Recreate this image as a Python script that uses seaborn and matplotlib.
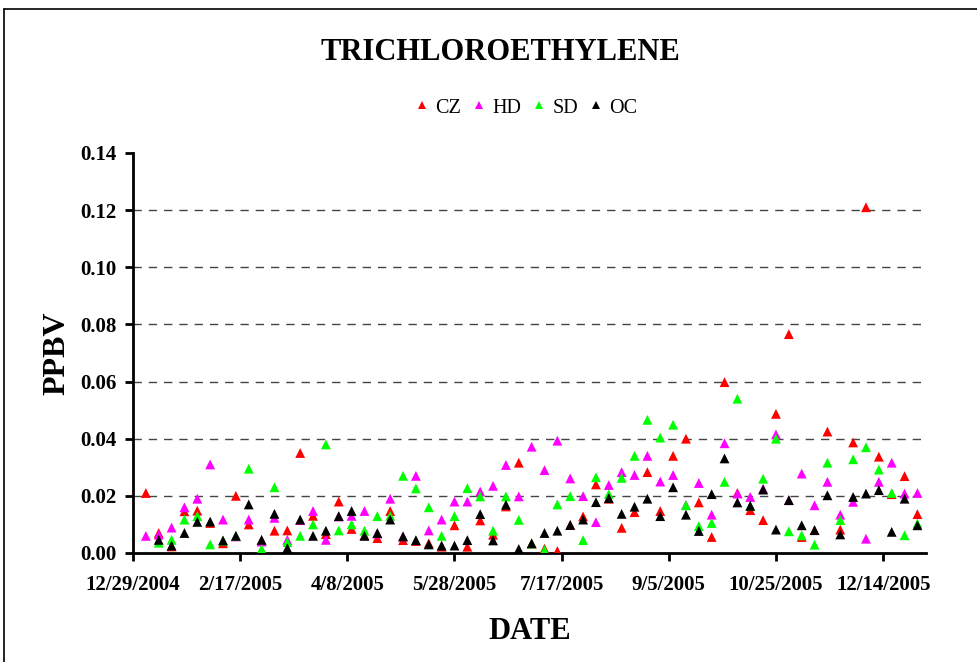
import numpy as np
import pandas as pd
import matplotlib
matplotlib.use("Agg")
import matplotlib.pyplot as plt
from matplotlib.lines import Line2D
import seaborn as sns

# sampling every 6 days
sample_dates = pd.date_range("2005-01-04", periods=61, freq="6D")
nan = np.nan

cz = [0.021, 0.007, 0.0023, 0.0146, 0.0148, 0.0105, 0.0034, 0.020, 0.010, 0.0045,
      0.0078, 0.0079, 0.035, 0.013, 0.0066, 0.018, 0.0084, 0.0062, 0.0052, 0.0147,
      0.0045, 0.0042, 0.0034, 0.0022, 0.0097, 0.0022, 0.0114, 0.0064, 0.0163, 0.0316,
      0.0033, 0.0015, 0.0007, 0.0098, 0.0128, 0.024, 0.019, 0.0088, 0.0143, 0.0283,
      0.0147, 0.034, 0.040, 0.0177, 0.0056, 0.0598, 0.021, 0.015, 0.0115, 0.0487,
      0.0766, 0.0056, 0.008, 0.0425, 0.0082, 0.0387, 0.121, 0.0337, 0.0206, 0.0269,
      0.0136]
hd = [0.006, 0.0064, 0.0089, 0.016, 0.019, 0.031, 0.0117, 0.0058, 0.0117, 0.004,
      0.0123, 0.0046, 0.0115, 0.0147, 0.0046, 0.0128, 0.013, 0.0147, 0.0068, 0.019,
      0.0058, 0.027, 0.0079, 0.0117, 0.018, 0.018, 0.0215, 0.0235, 0.0308, 0.0198,
      0.0372, 0.029, 0.0393, 0.0261, 0.0199, 0.0108, 0.0238, 0.0283, 0.0273, 0.034,
      0.025, 0.0273, 0.0168, 0.0245, 0.0134, 0.0384, 0.0208, 0.0196, 0.0225, 0.0415,
      0.0185, 0.0278, 0.0167, 0.0249, 0.0134, 0.0179, 0.005, 0.0249, 0.0316, 0.0208,
      0.021]
sd = [nan, 0.0036, 0.0046, 0.0117, 0.0129, 0.003, 0.0043, 0.006, 0.0295, 0.0014,
      0.023, 0.0038, 0.006, 0.010, 0.038, 0.0079, 0.010, 0.0078, 0.0129, 0.013,
      0.027, 0.0226, 0.016, 0.006, 0.0129, 0.0227, 0.0198, 0.0078, 0.0198, 0.0116,
      0.0033, 0.001, 0.017, 0.0199, 0.0045, 0.0265, 0.0206, 0.0263, 0.034, 0.0466,
      0.0404, 0.0449, 0.0167, 0.0094, 0.0105, 0.0249, 0.054, 0.0165, 0.026, 0.040,
      0.0076, 0.0062, 0.0029, 0.0316, 0.0115, 0.0328, 0.037, 0.0292, 0.021, 0.0062,
      0.0103]
oc = [nan, 0.0046, 0.0026, 0.007, 0.0109, 0.011, 0.0044, 0.006, 0.017, 0.0046,
      0.0137, 0.0017, 0.0117, 0.006, 0.0078, 0.0129, 0.0147, 0.006, 0.007, 0.0117,
      0.0058, 0.0045, 0.003, 0.0026, 0.0026, 0.0045, 0.0136, 0.0044, 0.0169, 0.0014,
      0.0034, 0.007, 0.0078, 0.0098, 0.0117, 0.0178, 0.0192, 0.0137, 0.0162, 0.019,
      0.0129, 0.023, 0.0134, 0.0077, 0.0206, 0.0331, 0.0177, 0.0165, 0.0222, 0.0082,
      0.0185, 0.0097, 0.008, 0.0202, 0.0065, 0.0196, 0.0208, 0.022, 0.0074, 0.019,
      0.0097]

sites = ["CZ", "HD", "SD", "OC"]
colors = {"CZ": "#FF0000", "HD": "#FF00FF", "SD": "#00FF00", "OC": "#000000"}

df = pd.concat([
    pd.DataFrame({"date": sample_dates, "ppbv": vals, "site": name})
    for name, vals in zip(sites, [cz, hd, sd, oc])
], ignore_index=True)

tick_dates = pd.date_range("2004-12-29", periods=8, freq="50D")
tick_labels = [f"{d.month}/{d.day}/{d.year}" for d in tick_dates]

sns.set_style("white")
plt.rcParams["font.family"] = ["Liberation Serif", "DejaVu Serif"]
plt.rcParams.update({"text.color": "black", "axes.labelcolor": "black",
                     "xtick.color": "black", "ytick.color": "black"})

fig = plt.figure(figsize=(9.77, 6.62), dpi=100)
ax = fig.add_axes([133 / 977, 1 - 553 / 662, 793 / 977, 400 / 662])

for yv in np.arange(0.02, 0.121, 0.02):
    ax.axhline(yv, color="#444444", lw=1.0, ls=(0, (6, 5)), zorder=0)

sns.scatterplot(data=df, x="date", y="ppbv", hue="site", palette=colors,
                marker="^", s=50, linewidth=0, ax=ax, zorder=3)

ax.set_xlim(pd.Timestamp("2004-12-29"), pd.Timestamp("2006-01-03"))
ax.set_ylim(0, 0.14)
ax.set_xticks(tick_dates)
ax.set_xticklabels(tick_labels, fontsize=15, fontweight="bold")
ax.set_yticks(np.arange(0, 0.141, 0.02))
ax.set_yticklabels([f"{v:.2f}" for v in np.arange(0, 0.141, 0.02)],
                   fontsize=15, fontweight="bold")
ax.tick_params(axis="both", direction="out", length=6, width=2, color="black",
               left=True, bottom=True)
ax.tick_params(axis="x", pad=10)
ax.tick_params(axis="y", pad=6)

for side in ["top", "right"]:
    ax.spines[side].set_visible(False)
for side in ["left", "bottom"]:
    ax.spines[side].set_color("black")
    ax.spines[side].set_linewidth(2)

ax.set_xlabel("DATE", fontsize=22, fontweight="bold", labelpad=16)
ax.set_ylabel("PPBV", fontsize=23, fontweight="bold", labelpad=6)

fig.text(0.512, 1 - 52 / 662, "TRICHLOROETHYLENE", ha="center", va="center",
         fontsize=22, fontweight="bold")

sns.move_legend(ax, loc="center", bbox_to_anchor=(0.539, 1 - 108 / 662),
                bbox_transform=fig.transFigure, ncol=4, frameon=False, title=None,
                fontsize=14.5, handlelength=0.6, handletextpad=0.35,
                columnspacing=0.6, markerscale=0.85)

# outer chart frame
fig.add_artist(Line2D([4 / 977, 4 / 977], [0, 1 - 9 / 662], color="black", lw=1.2,
                      transform=fig.transFigure))
fig.add_artist(Line2D([4 / 977, 1], [1 - 9 / 662, 1 - 9 / 662], color="black", lw=1.2,
                      transform=fig.transFigure))

fig.savefig("out.png", dpi=100)
